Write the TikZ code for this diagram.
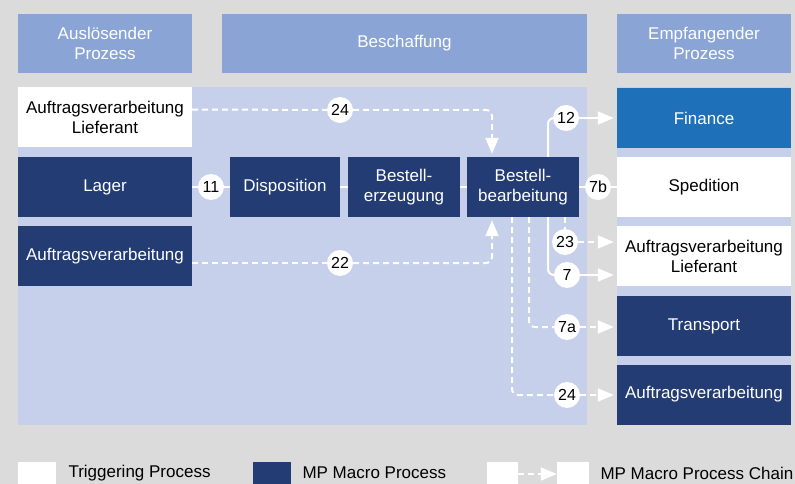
\documentclass[tikz,border=0pt]{standalone}
\usepackage{fontspec}
\setmainfont{Liberation Sans}
\usetikzlibrary{arrows.meta}
\definecolor{bggray}{HTML}{DBDBDB}
\definecolor{headblue}{HTML}{8AA4D6}
\definecolor{areablue}{HTML}{C6D0EB}
\definecolor{macroblue}{HTML}{233C74}
\definecolor{finblue}{HTML}{1E71B8}
\begin{document}
\begin{tikzpicture}[x=1pt,y=-1pt,
    box/.style={minimum height=60pt,inner sep=0pt,align=center,font=\fontsize{17}{20}\selectfont},
    head/.style={box,fill=headblue,text=white,minimum height=59pt,minimum width=174pt},
    trig/.style={box,fill=white,text=black,minimum width=174pt},
    macro/.style={box,fill=macroblue,text=white},
    num/.style={circle,fill=white,text=black,minimum size=26pt,inner sep=0pt,font=\fontsize{16}{16}\selectfont},
    flow/.style={white,line width=2pt,rounded corners=6pt},
    chain/.style={flow,dash pattern=on 6pt off 4pt},
    tip/.style={-{Triangle[length=16pt,width=13pt]},shorten >=3pt}]
    \fill[bggray](0,0)rectangle(795,484);
    \useasboundingbox(0,0)rectangle(795,484);
    \fill[areablue](18,87)rectangle(587,425);
    \fill[areablue](617,87)rectangle(791,425);
    % headers
    \node[head](aus)at(105,43.5){Auslösender\\Prozess};
    \node[head,minimum width=365pt](besch)at(404.5,43.5){Beschaffung};
    \node[head](emp)at(704,43.5){Empfangender\\Prozess};
    % triggering side and procurement
    \node[trig](lief)at(105,117.5){Auftragsverarbeitung\\Lieferant};
    \node[macro,minimum width=174pt](lager)at(105,187){Lager};
    \node[macro,minimum width=174pt](auftrag)at(105,256){Auftragsverarbeitung};
    \node[macro,minimum width=110pt](dispo)at(285,187){Disposition};
    \node[macro,minimum width=112pt](erz)at(404,187){Bestell-\\erzeugung};
    \node[macro,minimum width=112pt](bear)at(523,187){Bestell-\\bearbeitung};
    % receiving side
    \node[box,fill=finblue,text=white,minimum width=174pt](fin)at(704,118){Finance};
    \node[trig](sped)at(704,187){Spedition};
    \node[trig](liefr)at(704,256){Auftragsverarbeitung\\Lieferant};
    \node[macro,minimum width=174pt](transp)at(704,326){Transport};
    \node[macro,minimum width=174pt](auftr)at(704,394.5){Auftragsverarbeitung};
    % numbers
    \node[num](n24a)at(340,110){24};
    \node[num](n11)at(211,187){11};
    \node[num](n22)at(340,263){22};
    \node[num](n12)at(566,118){12};
    \node[num](n7b)at(598,187){7b};
    \node[num](n23)at(565,242){23};
    \node[num](n7)at(567,275){7};
    \node[num](n7a)at(567,327){7a};
    \node[num](n24b)at(567,395){24};
    % connectors
    \draw[chain]([yshift=8pt]lief.east)--(n24a);
    \draw[chain,tip](n24a)-|([xshift=-31pt]bear.north);
    \draw[flow](lager)--(n11)--(dispo);
    \draw[flow](dispo)--(erz)--(bear);
    \draw[chain]([yshift=-7pt]auftrag.east)--(n22);
    \draw[chain,tip](n22)-|([xshift=-31pt]bear.south);
    \draw[flow](bear)--(n7b)--(sped);
    \draw[flow]([xshift=25pt]bear.north)|-(n12);
    \draw[flow,tip](n12)--(n12-|fin.west);
    \draw[flow]([xshift=25pt]bear.south)|-(n7);
    \draw[flow,tip](n7)--(n7-|liefr.west);
    \draw[chain](n23|-bear.south)--(n23);
    \draw[chain,tip](n23)--(n23-|liefr.west);
    \draw[chain]([xshift=6pt]bear.south)|-(n7a);
    \draw[chain,tip](n7a)--(n7a-|transp.west);
    \draw[chain]([xshift=-11pt]bear.south)|-(n24b);
    \draw[chain,tip](n24b)--(n24b-|auftr.west);
    % legend
    \node[fill=white,minimum width=38pt,minimum height=24pt,inner sep=0pt](legtrig)at(37,474){};
    \node[right,font=\fontsize{17}{20}\selectfont](legtrigtxt)at(65,473){Triggering Process};
    \node[fill=macroblue,minimum width=38pt,minimum height=24pt,inner sep=0pt](legmacro)at(272,474){};
    \node[right,font=\fontsize{17}{20}\selectfont](legmacrotxt)at(299,473){MP Macro Process};
    \node[fill=white,minimum width=31pt,minimum height=24pt,inner sep=0pt](legc1)at(502.5,474){};
    \node[fill=white,minimum width=32pt,minimum height=24pt,inner sep=0pt](legc2)at(573,474){};
    \draw[chain,-{Triangle[length=16pt,width=13pt]}](legc1)--(legc2);
    \node[right,font=\fontsize{17}{20}\selectfont](legchaintxt)at(597,473){MP Macro Process Chain};
\end{tikzpicture}
\end{document}
